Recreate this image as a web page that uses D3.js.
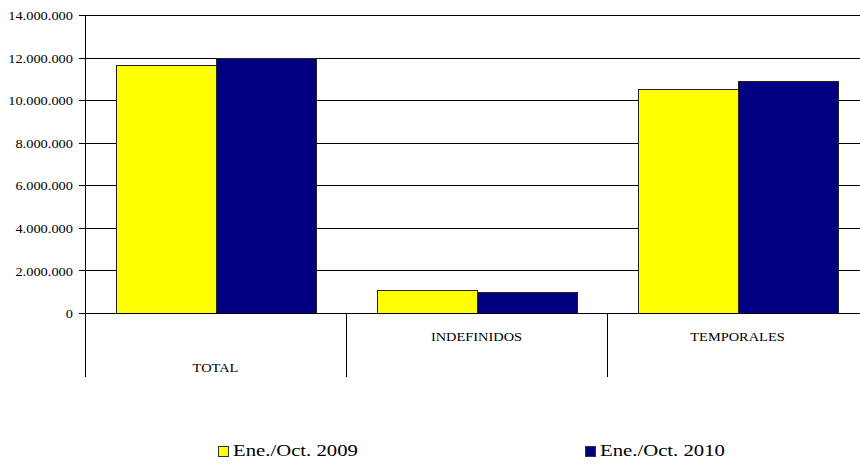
<!DOCTYPE html>
<html>
<head>
<meta charset="utf-8">
<script src="https://cdn.jsdelivr.net/npm/d3@7"></script>
<style>
  body { margin: 0; background: #fff; }
  text { font-family: "Liberation Serif", "Times New Roman", serif; fill: #000; }
</style>
</head>
<body>
<div id="chart"></div>
<script>
// Data
var categories = ["TOTAL", "INDEFINIDOS", "TEMPORALES"];
var seriesNames = ["Ene./Oct. 2009", "Ene./Oct. 2010"];
var values2009 = [11640000, 1080000, 10520000];
var values2010 = [11960000, 990000, 10910000];
var yTicks = [0, 2000000, 4000000, 6000000, 8000000, 10000000, 12000000, 14000000];
var seriesColors = ["#FFFF00", "#000080"];

// SVG area
var svgWidth = 860;
var svgHeight = 464;
var plot = { left: 85, top: 15, right: 868, bottom: 313 };
var stretch = 1.2; // text in the reference is wide

var svg = d3.select("#chart")
  .append("svg")
  .attr("width", svgWidth)
  .attr("height", svgHeight);

// Scales
var xBandScale = d3.scaleBand()
  .domain(categories)
  .range([plot.left, plot.right])
  .paddingInner(0)
  .paddingOuter(0);

var xSeries = d3.scaleBand()
  .domain(seriesNames)
  .range([0, xBandScale.bandwidth()])
  .paddingInner(0)
  .paddingOuter(0.305);

var yLinearScale = d3.scaleLinear()
  .domain([0, 14000000])
  .range([plot.bottom, plot.top]);

var locale = d3.formatLocale({ decimal: ",", thousands: ".", grouping: [3], currency: ["", ""] });
var fmt = locale.format(",.0f");

// Gridlines
svg.append("g")
  .selectAll("line")
  .data(yTicks)
  .enter()
  .append("line")
  .attr("x1", plot.left - 6)
  .attr("x2", plot.right)
  .attr("y1", d => Math.round(yLinearScale(d)) + 0.5)
  .attr("y2", d => Math.round(yLinearScale(d)) + 0.5)
  .attr("stroke", "#000")
  .attr("stroke-width", 1);

// Y labels
svg.append("g")
  .selectAll("text")
  .data(yTicks)
  .enter()
  .append("text")
  .attr("transform", d => `translate(73, ${yLinearScale(d) + 1}) scale(${stretch},1)`)
  .attr("dy", "0.35em")
  .attr("text-anchor", "end")
  .style("font-size", "12px")
  .text(d => fmt(d));

// Bars
var data = categories.map((c, i) => ({ cat: c, vals: [values2009[i], values2010[i]] }));

var groups = svg.append("g")
  .selectAll("g")
  .data(data)
  .enter()
  .append("g")
  .attr("transform", d => `translate(${xBandScale(d.cat)}, 0)`);

groups.selectAll("rect")
  .data(d => d.vals.map((v, j) => ({ s: seriesNames[j], v: v, j: j })))
  .enter()
  .append("rect")
  .attr("x", d => Math.round(xSeries(d.s)) + 0.5)
  .attr("y", d => Math.round(yLinearScale(d.v)) + 0.5)
  .attr("width", xSeries.bandwidth())
  .attr("height", d => Math.round(plot.bottom - yLinearScale(d.v)))
  .attr("fill", d => seriesColors[d.j])
  .attr("stroke", "#222")
  .attr("stroke-width", 1);

// Zero line on top of bars
svg.append("line")
  .attr("x1", plot.left - 6)
  .attr("x2", plot.right)
  .attr("y1", plot.bottom + 0.5)
  .attr("y2", plot.bottom + 0.5)
  .attr("stroke", "#000");

// Left axis and category dividers
svg.append("line")
  .attr("x1", plot.left + 0.5)
  .attr("x2", plot.left + 0.5)
  .attr("y1", plot.top)
  .attr("y2", 377)
  .attr("stroke", "#000");

svg.append("g")
  .selectAll("line")
  .data(categories.slice(1))
  .enter()
  .append("line")
  .attr("x1", d => Math.round(xBandScale(d)) + 0.5)
  .attr("x2", d => Math.round(xBandScale(d)) + 0.5)
  .attr("y1", plot.bottom)
  .attr("y2", 377)
  .attr("stroke", "#000");

// Category labels, staggered
svg.append("g")
  .selectAll("text")
  .data(categories)
  .enter()
  .append("text")
  .attr("transform", (d, i) => `translate(${xBandScale(d) + xBandScale.bandwidth() / 2}, ${i === 0 ? 372 : 341}) scale(${stretch},1)`)
  .attr("text-anchor", "middle")
  .style("font-size", "12px")
  .text(d => d);

// Legend
var legendX = [218, 585];
var legend = svg.append("g")
  .selectAll("g")
  .data(seriesNames)
  .enter()
  .append("g")
  .attr("transform", (d, i) => `translate(${legendX[i]}, 446)`);

legend.append("rect")
  .attr("x", 0.5)
  .attr("y", 0.5)
  .attr("width", 10)
  .attr("height", 10)
  .attr("fill", (d, i) => seriesColors[i])
  .attr("stroke", "#333");

legend.append("text")
  .attr("transform", "translate(15, 10) scale(1.22,1)")
  .style("font-size", "17px")
  .text(d => d);
</script>
</body>
</html>
